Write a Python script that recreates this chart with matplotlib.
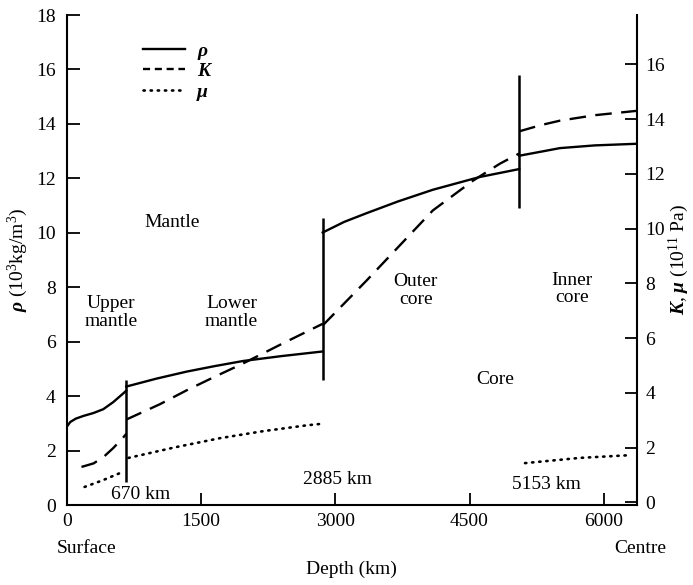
import matplotlib
matplotlib.use("Agg")
import matplotlib.pyplot as plt
from matplotlib.lines import Line2D

plt.rcParams['font.family'] = ['Liberation Serif', 'DejaVu Serif']
plt.rcParams['mathtext.fontset'] = 'custom'
plt.rcParams['mathtext.rm'] = 'Liberation Serif'
plt.rcParams['mathtext.it'] = 'Liberation Serif:italic:bold'
plt.rcParams['mathtext.bf'] = 'Liberation Serif:bold'

# --- DATA ---
# boundaries as drawn (km) and the extent of the marker bars (rho units)
boundary_km = [665, 2860, 5055]
boundary_lo = [0.85, 4.6, 10.9]
boundary_hi = [4.6, 10.55, 15.8]

# density rho (10^3 kg/m^3), left axis
rho_um_x = [0, 40, 100, 185, 300, 409, 520, 632, 665]
rho_um_y = [2.87, 3.05, 3.17, 3.27, 3.38, 3.52, 3.78, 4.10, 4.20]
rho_lm_x = [665, 1000, 1340, 1650, 1970, 2400, 2860]
rho_lm_y = [4.35, 4.64, 4.90, 5.10, 5.29, 5.47, 5.64]
rho_oc_x = [2860, 3100, 3350, 3700, 4090, 4615, 5055]
rho_oc_y = [10.01, 10.40, 10.72, 11.15, 11.58, 12.05, 12.34]
rho_ic_x = [5055, 5300, 5510, 5900, 6371]
rho_ic_y = [12.83, 12.98, 13.11, 13.21, 13.27]

# bulk modulus K (10^11 Pa), right axis
k_um_x = [165, 300, 410, 520, 630, 665]
k_um_y = [1.29, 1.42, 1.65, 1.98, 2.36, 2.50]
k_lm_x = [665, 1040, 1340, 1650, 1970, 2400, 2860]
k_lm_y = [3.02, 3.58, 4.09, 4.58, 5.07, 5.78, 6.52]
k_oc_x = [2860, 3350, 4090, 4540, 4840, 5055]
k_oc_y = [6.46, 8.10, 10.66, 11.75, 12.37, 12.74]
k_ic_x = [5055, 5300, 5510, 5900, 6371]
k_ic_y = [13.55, 13.78, 13.94, 14.14, 14.30]

# shear modulus mu (10^11 Pa), right axis
mu_um_x = [200, 400, 620]
mu_um_y = [0.56, 0.80, 1.10]
mu_lm_x = [690, 1200, 1710, 2200, 2680, 2860]
mu_lm_y = [1.62, 2.00, 2.34, 2.60, 2.81, 2.87]
mu_ic_x = [5120, 5730, 6290]
mu_ic_y = [1.43, 1.62, 1.72]

# region labels: (text, depth km, rho)
labels = [
    ("Mantle", 1172, 10.36),
    ("Upper\nmantle", 494, 7.06),
    ("Lower\nmantle", 1842, 7.06),
    ("Outer\ncore", 3900, 7.87),
    ("Inner\ncore", 5640, 7.94),
    ("Core", 4783, 4.60),
    ("670 km", 828, 0.37),
    ("2885 km", 3024, 0.92),
    ("5153 km", 5360, 0.74),
]

# --- PLOT ---
fig = plt.figure(figsize=(6.93, 5.85), dpi=100)
ax = fig.add_axes([66.7 / 693, 80 / 585, 570.3 / 693, 490 / 585])
ax2 = ax.twinx()

lw = 1.7
dash = (0, (7, 4))
dot = (0, (0.5, 2.2))

for x, y in [(rho_um_x, rho_um_y), (rho_lm_x, rho_lm_y),
             (rho_oc_x, rho_oc_y), (rho_ic_x, rho_ic_y)]:
    ax.plot(x, y, color='black', lw=lw)

for x, y in [(k_um_x, k_um_y), (k_lm_x, k_lm_y),
             (k_oc_x, k_oc_y), (k_ic_x, k_ic_y)]:
    ax2.plot(x, y, color='black', lw=lw, linestyle=dash)

for x, y in [(mu_um_x, mu_um_y), (mu_lm_x, mu_lm_y), (mu_ic_x, mu_ic_y)]:
    ax2.plot(x, y, color='black', lw=1.9, linestyle=dot, dash_capstyle='round')

ax.vlines(boundary_km, boundary_lo, boundary_hi, color='black', lw=1.8)

for txt, x, y in labels:
    ax.text(x, y, txt, ha='center', va='center', fontsize=14, linespacing=1.05)

ax.set_xlim(0, 6371)
ax.set_ylim(0, 18)
ax2.set_ylim(-0.1, 17.8)
ax.set_xticks([0, 1500, 3000, 4500, 6000])
ax.set_yticks(range(0, 19, 2))
ax2.set_yticks(range(0, 17, 2))

for s in ['top', 'right']:
    ax.spines[s].set_visible(False)
for s in ['top', 'left', 'bottom']:
    ax2.spines[s].set_visible(False)
for sp in list(ax.spines.values()) + list(ax2.spines.values()):
    sp.set_linewidth(1.5)

ax.tick_params(axis='both', direction='in', length=9, width=1.3, labelsize=14)
ax.tick_params(axis='y', pad=8)
ax.tick_params(axis='x', pad=6)
ax2.tick_params(axis='y', direction='in', length=9, width=1.3, labelsize=14, pad=6)

ax.set_ylabel(r'$\rho$ (10$^{\mathrm{3}}$kg/m$^{\mathrm{3}}$)', fontsize=14, labelpad=4)
ax2.set_ylabel(r'$K$, $\mu$ (10$^{\mathrm{11}}$ Pa)', fontsize=14, labelpad=1)
ax.set_xlabel('Depth (km)', fontsize=14, labelpad=22)

ax.text(-108, -0.088, 'Surface', transform=ax.get_xaxis_transform(), ha='left', va='center',
        fontsize=14, clip_on=False)
ax.text(6700, -0.088, 'Centre', transform=ax.get_xaxis_transform(), ha='right', va='center',
        fontsize=14, clip_on=False)

handles = [Line2D([], [], color='black', lw=lw),
           Line2D([], [], color='black', lw=lw, linestyle=(0, (3, 2))),
           Line2D([], [], color='black', lw=1.9, linestyle=dot, dash_capstyle='round')]
ax.legend(handles, ['ρ', 'K', 'μ'], loc='upper left', bbox_to_anchor=(0.133, 0.945),
          frameon=False, handlelength=2.2, handletextpad=0.6, labelspacing=0.15,
          borderpad=0, borderaxespad=0,
          prop=dict(family='Liberation Serif', style='italic', weight='bold', size=14))

fig.savefig('out.png', dpi=100)
